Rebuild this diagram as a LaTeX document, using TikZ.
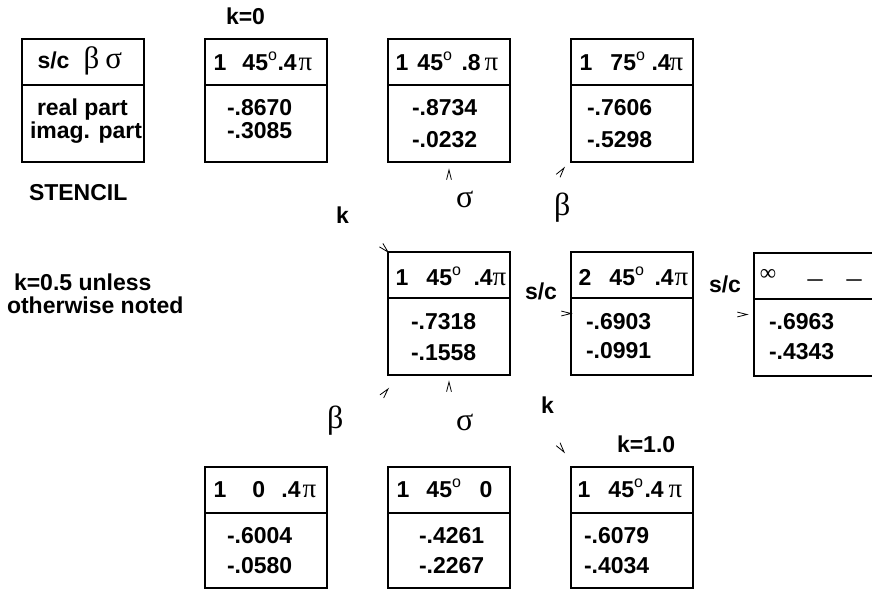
\documentclass[tikz,border=0pt]{standalone}
\usepackage{fontspec}
\setmainfont{Liberation Sans}
\newfontfamily\serf{Liberation Serif}
\usetikzlibrary{calc}
\newcommand\at[2]{\makebox[0pt][l]{\hspace*{#1pt}#2}}
\newcommand\dgr{\raisebox{10pt}{\fontsize{16}{16}\selectfont\mdseries o}}
\newcommand\ppi{{\serf\mdseries\fontsize{27}{27}\selectfont π}}
\newcommand\gk[1]{{\serf\mdseries\fontsize{31}{31}\selectfont #1}}
\newcommand\chev[2]{\draw[chev] ($(#1)+({#2+166}:10pt)$) -- (#1) -- ($(#1)+({#2-166}:10pt)$);}
\begin{document}
\begin{tikzpicture}[x=1pt,y=-1pt,
  every node/.style={inner sep=0pt,outer sep=0pt},
  txt/.style={font=\fontsize{23}{24}\selectfont\bfseries,anchor=base west},
  grk/.style={font=\serf\fontsize{32}{32}\selectfont,anchor=base west},
  cell/.style={draw,line width=1.3pt,minimum width=122pt,minimum height=123pt,anchor=north west},
  rule/.style={line width=1.3pt},
  chev/.style={line width=0.8pt}]
\useasboundingbox (0,0) rectangle (872,589);
\clip (0,0) rectangle (872,589);
% boxes
\node[cell] (st) at (22,39) {};
\node[cell] (a) at (205,39) {};
\node[cell] (b) at (388,39) {};
\node[cell] (c) at (571,39) {};
\node[cell] (m) at (388,252) {};
\node[cell] (s) at (571,252) {};
\node[cell] (f) at (754,253) {};
\node[cell,minimum height=121pt] (p) at (205,467) {};
\node[cell,minimum height=121pt] (q) at (388,467) {};
\node[cell,minimum height=121pt] (r) at (571,467) {};
\foreach \n in {st,a,b,c,m,s,f,p,q,r}
  \draw[rule] ($(\n.north west)+(0,46)$) -- ($(\n.north east)+(0,46)$);
% headers
\node[txt] (sth) at (22,68) {\at{15}{s/c}\at{61}{\gk{β}}\at{83}{\gk{σ}}};
\node[txt] (ah) at (205,70) {\at{8}{1}\at{37}{45\dgr}\at{72}{.4}\at{93}{\ppi}};
\node[txt] (bh) at (388,70) {\at{7}{1}\at{29}{45\dgr}\at{73}{.8}\at{96}{\ppi}};
\node[txt] (ch) at (571,70) {\at{8}{1}\at{39}{75\dgr}\at{80}{.4}\at{98}{\ppi}};
\node[txt] (mh) at (388,285) {\at{7}{1}\at{38}{45\dgr}\at{85}{.4}\at{104}{\ppi}};
\node[txt] (sh) at (571,285) {\at{7}{2}\at{38}{45\dgr}\at{83}{.4}\at{103}{\ppi}};
\node[font=\serf\fontsize{23}{23}\selectfont] (finf) at (768,275) {∞};
\node[font=\serf\fontsize{30}{30}\selectfont] (fd1) at (815,284) {–};
\node[font=\serf\fontsize{30}{30}\selectfont] (fd2) at (854,284) {–};
\node[txt] (ph) at (205,497) {\at{8}{1}\at{47}{0}\at{76}{.4}\at{97}{\ppi}};
\node[txt] (qh) at (388,497) {\at{8}{1}\at{38}{45\dgr}\at{91}{0}};
\node[txt] (rh) at (571,497) {\at{6}{1}\at{37}{45\dgr}\at{73}{.4}\at{97}{\ppi}};
% bodies
\node[txt] (st1) at (37,115) {real part};
\node[txt] (st2) at (30,138) {imag. part};
\node[txt] (a1) at (227,115) {-.8670};
\node[txt] (a2) at (227,138) {-.3085};
\node[txt] (b1) at (412,115) {-.8734};
\node[txt] (b2) at (412,147) {-.0232};
\node[txt] (c1) at (587,115) {-.7606};
\node[txt] (c2) at (587,147) {-.5298};
\node[txt] (m1) at (411,329) {-.7318};
\node[txt] (m2) at (411,360) {-.1558};
\node[txt] (s1) at (586,329) {-.6903};
\node[txt] (s2) at (586,358) {-.0991};
\node[txt] (f1) at (769,329) {-.6963};
\node[txt] (f2) at (769,359) {-.4343};
\node[txt] (p1) at (227,543) {-.6004};
\node[txt] (p2) at (227,573) {-.0580};
\node[txt] (q1) at (419,543) {-.4261};
\node[txt] (q2) at (419,573) {-.2267};
\node[txt] (r1) at (584,543) {-.6079};
\node[txt] (r2) at (584,573) {-.4034};
% free labels
\node[txt] (lk0) at (226,24) {k=0};
\node[txt] (lst) at (29,200) {STENCIL};
\node[txt] (ln1) at (14,290) {k=0.5 unless};
\node[txt] (ln2) at (7,313) {otherwise noted};
\node[txt] (lk1) at (336,223) {k};
\node[txt] (lsc1) at (525,299) {s/c};
\node[txt] (lsc2) at (709,292) {s/c};
\node[txt] (lk2) at (541,413) {k};
\node[txt] (lk10) at (617,452) {k=1.0};
\node[grk] (gs1) at (456,207) {σ};
\node[grk] (gb1) at (554,215) {β};
\node[grk] (gs2) at (456,430) {σ};
\node[grk] (gb2) at (327,428) {β};
% arrow tips
\coordinate (t1) at ($(b.south)+(0,8)$); \chev{t1}{90}
\coordinate (t2) at ($(c.south west)+(-7,6)$); \chev{t2}{53}
\coordinate (t3) at (m.north west); \chev{t3}{-45}
\coordinate (t4) at (s.west); \chev{t4}{0}
\coordinate (t5) at ($(f.west)+(-7,0)$); \chev{t5}{0}
\coordinate (t6) at ($(m.south west)+(0,14)$); \chev{t6}{50}
\coordinate (t7) at ($(m.south)+(0,7)$); \chev{t7}{90}
\coordinate (t8) at ($(r.north west)+(-7,-15)$); \chev{t8}{-53}
\end{tikzpicture}
\end{document}
